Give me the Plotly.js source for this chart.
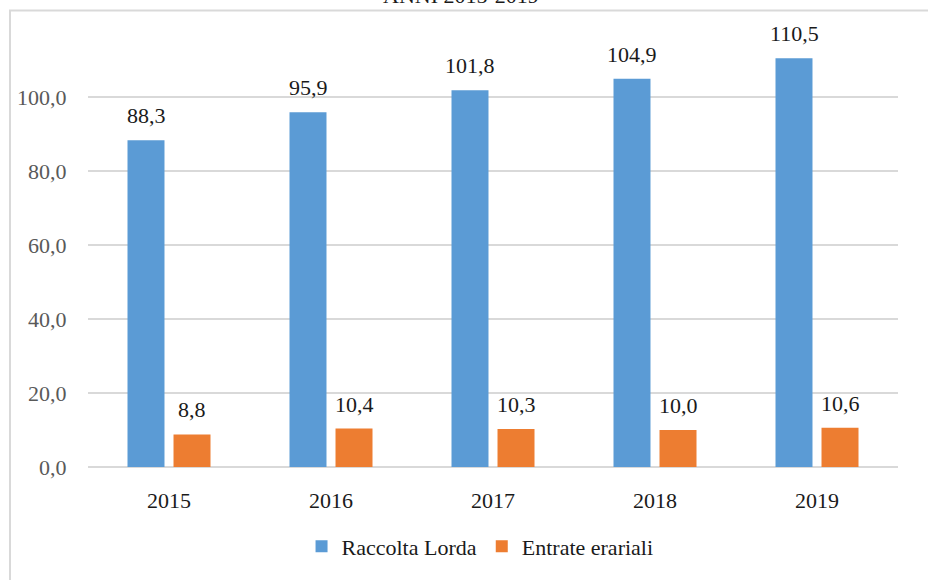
<!DOCTYPE html>
<html>
<head>
<meta charset="utf-8">
<script src="https://cdn.plot.ly/plotly-3.0.1.min.js"></script>
<style>html,body{margin:0;padding:0;background:#fff;}#chart{width:928px;height:580px;}
#chart text{font-family:"Liberation Serif","Times New Roman",serif !important;}</style>
</head>
<body>
<div id="chart"></div>
<script>
const categories = ["2015", "2016", "2017", "2018", "2019"];
const raccoltaLorda = [88.3, 95.9, 101.8, 104.9, 110.5];
const entrateErariali = [8.8, 10.4, 10.3, 10.0, 10.6];
const yTickVals = [0, 20, 40, 60, 80, 100];
const yTickText = ["0,0", "20,0", "40,0", "60,0", "80,0", "100,0"];
const seriesNames = ["Raccolta Lorda", "Entrate erariali"];
const titleText = "ANNI 2015-2019";

const FONT = "Times New Roman";
const fmt = v => v.toFixed(1).replace(".", ",");

const traces = [
  {type: "bar", name: seriesNames[0], x: categories, y: raccoltaLorda,
   marker: {color: "#5B9BD5"}, hoverinfo: "none"},
  {type: "bar", name: seriesNames[1], x: categories, y: entrateErariali,
   marker: {color: "#ED7D31"}, hoverinfo: "none"}
];

const annotations = [];
[raccoltaLorda, entrateErariali].forEach((arr, si) => {
  arr.forEach((v, i) => {
    annotations.push({
      x: i, y: v, xref: "x", yref: "y",
      text: fmt(v), showarrow: false, yanchor: "bottom",
      xshift: si === 0 ? -23 : 23, yshift: 10,
      font: {family: FONT, size: 22}
    });
  });
});
annotations.push({
  x: 0.46, y: 1.0, xref: "paper", yref: "paper", yanchor: "bottom",
  yshift: 13, text: titleText, showarrow: false,
  font: {family: FONT, size: 22}
});

const layout = {
  width: 928, height: 580,
  margin: {l: 88, r: 30, t: 23, b: 110},
  paper_bgcolor: "#fff", plot_bgcolor: "#fff",
  font: {family: FONT, size: 22, color: "#1a1a1a"},
  barmode: "group", bargap: 0.432, bargroupgap: 0.196,
  xaxis: {
    type: "category", range: [-0.5, 4.5], showgrid: false, zeroline: false, showline: false,
    ticks: "outside", ticklen: 14, tickcolor: "rgba(0,0,0,0)",
    tickfont: {family: FONT, size: 22, color: "#1a1a1a"}
  },
  yaxis: {
    range: [0, 120], tickvals: yTickVals, ticktext: yTickText,
    showgrid: true, gridcolor: "#D9D9D9", gridwidth: 1.5,
    zeroline: true, zerolinecolor: "#D9D9D9", zerolinewidth: 1.5,
    showline: false, ticks: "outside", ticklen: 16, tickcolor: "rgba(0,0,0,0)",
    tickfont: {family: FONT, size: 22, color: "#595959"}
  },
  showlegend: true,
  legend: {
    orientation: "h", x: 0.484, xanchor: "center", y: -0.179, yanchor: "middle"
  },
  annotations: annotations,
  shapes: [{
    type: "rect", xref: "paper", yref: "paper",
    x0: -0.0963, x1: 1.2, y0: -0.5, y1: 1.028,
    line: {color: "#D9D9D9", width: 2}, fillcolor: "rgba(0,0,0,0)", layer: "below"
  }]
};

Plotly.newPlot("chart", traces, layout, {displayModeBar: false});
</script>
</body>
</html>
